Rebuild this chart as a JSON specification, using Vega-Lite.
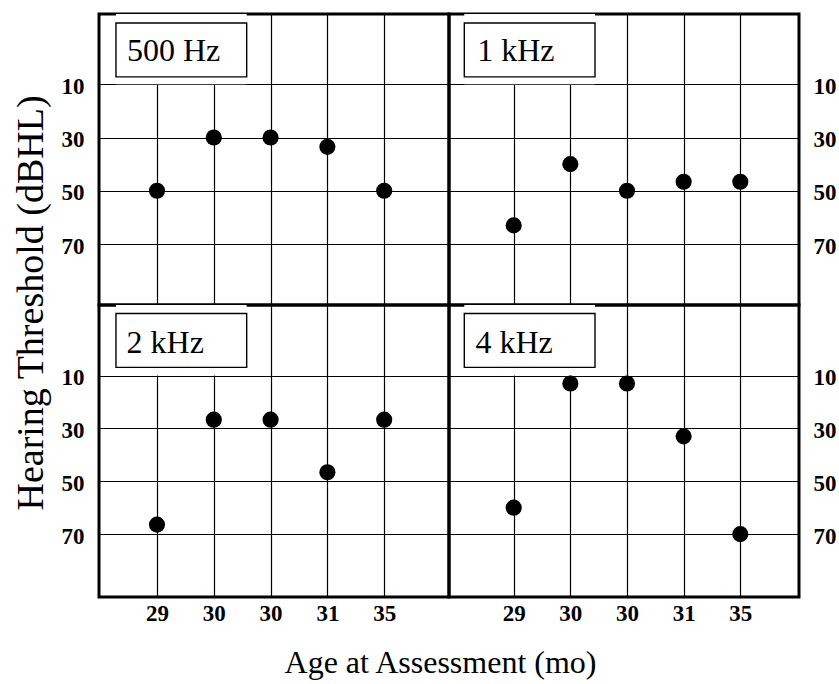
{
  "$schema": "https://vega.github.io/schema/vega-lite/v6.json",
  "padding": {"left": 10, "top": 12, "right": 0, "bottom": 0},
  "background": "white",
  "data": {
    "values": [
      {"freq": "500 Hz", "idx": 1, "age": 29, "threshold": 50},
      {"freq": "500 Hz", "idx": 2, "age": 30, "threshold": 30},
      {"freq": "500 Hz", "idx": 3, "age": 30, "threshold": 30},
      {"freq": "500 Hz", "idx": 4, "age": 31, "threshold": 33.5},
      {"freq": "500 Hz", "idx": 5, "age": 35, "threshold": 50},
      {"freq": "1 kHz", "idx": 1, "age": 29, "threshold": 63},
      {"freq": "1 kHz", "idx": 2, "age": 30, "threshold": 40},
      {"freq": "1 kHz", "idx": 3, "age": 30, "threshold": 50},
      {"freq": "1 kHz", "idx": 4, "age": 31, "threshold": 46.6},
      {"freq": "1 kHz", "idx": 5, "age": 35, "threshold": 46.6},
      {"freq": "2 kHz", "idx": 1, "age": 29, "threshold": 66.4},
      {"freq": "2 kHz", "idx": 2, "age": 30, "threshold": 26.7},
      {"freq": "2 kHz", "idx": 3, "age": 30, "threshold": 26.7},
      {"freq": "2 kHz", "idx": 4, "age": 31, "threshold": 46.6},
      {"freq": "2 kHz", "idx": 5, "age": 35, "threshold": 26.7},
      {"freq": "4 kHz", "idx": 1, "age": 29, "threshold": 60},
      {"freq": "4 kHz", "idx": 2, "age": 30, "threshold": 13},
      {"freq": "4 kHz", "idx": 3, "age": 30, "threshold": 13},
      {"freq": "4 kHz", "idx": 4, "age": 31, "threshold": 33},
      {"freq": "4 kHz", "idx": 5, "age": 35, "threshold": 70}
    ]
  },
  "columns": 2,
  "spacing": 0,
  "bounds": "flush",
  "concat": [
    {
      "width": 350, "height": 291,
      "transform": [{"filter": "datum.freq == '500 Hz'"}],
      "layer": [
        {"transform": [{"filter": "datum.idx == 1"}], "mark": {"type": "rect", "fill": "white", "strokeWidth": 0},
         "encoding": {"x": {"datum": 0.278}, "x2": {"datum": 2.579}, "y": {"datum": -16.4}, "y2": {"datum": 10}}},
        {"transform": [{"filter": "datum.idx == 1"}], "mark": {"type": "rect", "fill": "white", "stroke": "black", "strokeWidth": 1.4},
         "encoding": {"x": {"datum": 0.278}, "x2": {"datum": 2.579}, "y": {"datum": -13}, "y2": {"datum": 7.2}}},
        {"transform": [{"filter": "datum.idx == 1"}], "mark": {"type": "text", "align": "left", "baseline": "alphabetic", "fontSize": 32, "font": "Liberation Serif", "color": "black"},
         "encoding": {"x": {"datum": 0.47}, "y": {"datum": 1.3}, "text": {"field": "freq"}}},
        {"mark": {"type": "circle", "size": 260, "color": "black", "opacity": 1},
         "encoding": {
           "x": {"field": "idx", "type": "quantitative", "scale": {"domain": [-0.021, 6.141], "nice": false, "zero": false},
                 "axis": {"values": [1, 2, 3, 4, 5], "grid": true, "labels": false, "ticks": false, "domain": false, "title": null}},
           "y": {"field": "threshold", "type": "quantitative", "scale": {"domain": [-16.4, 92.9], "nice": false, "zero": false, "reverse": true},
                 "axis": {"orient": "left", "values": [10, 30, 50, 70], "grid": true, "ticks": false, "tickSize": 0, "domain": false, "labelPadding": 15, "labelOffset": 2,
                          "title": "Hearing Threshold (dBHL)", "titleX": -68, "titleY": 288.5, "titleAngle": 270, "titleAlign": "center", "titleBaseline": "middle", "titleFontSize": 38}}
         }}
      ]
    },
    {
      "width": 350, "height": 291,
      "transform": [{"filter": "datum.freq == '1 kHz'"}],
      "layer": [
        {"transform": [{"filter": "datum.idx == 1"}], "mark": {"type": "rect", "fill": "white", "strokeWidth": 0},
         "encoding": {"x": {"datum": 0.128}, "x2": {"datum": 2.435}, "y": {"datum": -16.4}, "y2": {"datum": 10}}},
        {"transform": [{"filter": "datum.idx == 1"}], "mark": {"type": "rect", "fill": "white", "stroke": "black", "strokeWidth": 1.4},
         "encoding": {"x": {"datum": 0.128}, "x2": {"datum": 2.435}, "y": {"datum": -13}, "y2": {"datum": 7.2}}},
        {"transform": [{"filter": "datum.idx == 1"}], "mark": {"type": "text", "align": "left", "baseline": "alphabetic", "fontSize": 32, "font": "Liberation Serif", "color": "black"},
         "encoding": {"x": {"datum": 0.355}, "y": {"datum": 1.3}, "text": {"field": "freq"}}},
        {"mark": {"type": "circle", "size": 260, "color": "black", "opacity": 1},
         "encoding": {
           "x": {"field": "idx", "type": "quantitative", "scale": {"domain": [-0.142, 6.036], "nice": false, "zero": false},
                 "axis": {"values": [1, 2, 3, 4, 5], "grid": true, "labels": false, "ticks": false, "domain": false, "title": null}},
           "y": {"field": "threshold", "type": "quantitative", "scale": {"domain": [-16.4, 92.9], "nice": false, "zero": false, "reverse": true},
                 "axis": {"orient": "right", "values": [10, 30, 50, 70], "grid": true, "ticks": false, "tickSize": 0, "domain": false, "labelPadding": 14, "labelOffset": 2, "title": null}}
         }}
      ]
    },
    {
      "width": 350, "height": 292,
      "transform": [{"filter": "datum.freq == '2 kHz'"}],
      "layer": [
        {"transform": [{"filter": "datum.idx == 1"}], "mark": {"type": "rect", "fill": "white", "strokeWidth": 0},
         "encoding": {"x": {"datum": 0.278}, "x2": {"datum": 2.579}, "y": {"datum": -16.7}, "y2": {"datum": 10}}},
        {"transform": [{"filter": "datum.idx == 1"}], "mark": {"type": "rect", "fill": "white", "stroke": "black", "strokeWidth": 1.4},
         "encoding": {"x": {"datum": 0.278}, "x2": {"datum": 2.579}, "y": {"datum": -13.5}, "y2": {"datum": 6.9}}},
        {"transform": [{"filter": "datum.idx == 1"}], "mark": {"type": "text", "align": "left", "baseline": "alphabetic", "fontSize": 32, "font": "Liberation Serif", "color": "black"},
         "encoding": {"x": {"datum": 0.465}, "y": {"datum": 1.5}, "text": {"field": "freq"}}},
        {"mark": {"type": "circle", "size": 260, "color": "black", "opacity": 1},
         "encoding": {
           "x": {"field": "idx", "type": "quantitative", "scale": {"domain": [-0.021, 6.141], "nice": false, "zero": false},
                 "axis": {"values": [1, 2, 3, 4, 5], "grid": true, "ticks": false, "tickSize": 0, "domain": false, "labelPadding": 5,
                          "labelExpr": "['29','30','30','31','35'][datum.value - 1]",
                          "title": "Age at Assessment (mo)", "titleX": 341, "titleY": 75, "titleAlign": "center", "titleBaseline": "alphabetic", "titleFontSize": 32}},
           "y": {"field": "threshold", "type": "quantitative", "scale": {"domain": [-16.7, 93.8], "nice": false, "zero": false, "reverse": true},
                 "axis": {"orient": "left", "values": [10, 30, 50, 70], "grid": true, "ticks": false, "tickSize": 0, "domain": false, "labelPadding": 15, "labelOffset": 2, "title": null}}
         }}
      ]
    },
    {
      "width": 350, "height": 292,
      "transform": [{"filter": "datum.freq == '4 kHz'"}],
      "layer": [
        {"transform": [{"filter": "datum.idx == 1"}], "mark": {"type": "rect", "fill": "white", "strokeWidth": 0},
         "encoding": {"x": {"datum": 0.128}, "x2": {"datum": 2.435}, "y": {"datum": -16.7}, "y2": {"datum": 10}}},
        {"transform": [{"filter": "datum.idx == 1"}], "mark": {"type": "rect", "fill": "white", "stroke": "black", "strokeWidth": 1.4},
         "encoding": {"x": {"datum": 0.128}, "x2": {"datum": 2.435}, "y": {"datum": -13.5}, "y2": {"datum": 6.9}}},
        {"transform": [{"filter": "datum.idx == 1"}], "mark": {"type": "text", "align": "left", "baseline": "alphabetic", "fontSize": 32, "font": "Liberation Serif", "color": "black"},
         "encoding": {"x": {"datum": 0.325}, "y": {"datum": 1.5}, "text": {"field": "freq"}}},
        {"mark": {"type": "circle", "size": 260, "color": "black", "opacity": 1},
         "encoding": {
           "x": {"field": "idx", "type": "quantitative", "scale": {"domain": [-0.142, 6.036], "nice": false, "zero": false},
                 "axis": {"values": [1, 2, 3, 4, 5], "grid": true, "ticks": false, "tickSize": 0, "domain": false, "labelPadding": 5,
                          "labelExpr": "['29','30','30','31','35'][datum.value - 1]", "title": null}},
           "y": {"field": "threshold", "type": "quantitative", "scale": {"domain": [-16.7, 93.8], "nice": false, "zero": false, "reverse": true},
                 "axis": {"orient": "right", "values": [10, 30, 50, 70], "grid": true, "ticks": false, "tickSize": 0, "domain": false, "labelPadding": 14, "labelOffset": 2, "title": null}}
         }}
      ]
    }
  ],
  "config": {
    "view": {"stroke": "black", "strokeWidth": 3},
    "font": "Liberation Serif",
    "axis": {
      "gridColor": "black", "gridWidth": 1.2, "gridOpacity": 1,
      "labelFont": "Liberation Serif", "labelFontWeight": "bold", "labelFontSize": 23, "labelColor": "black",
      "titleFont": "Liberation Serif", "titleFontWeight": "normal", "titleColor": "black"
    }
  }
}
